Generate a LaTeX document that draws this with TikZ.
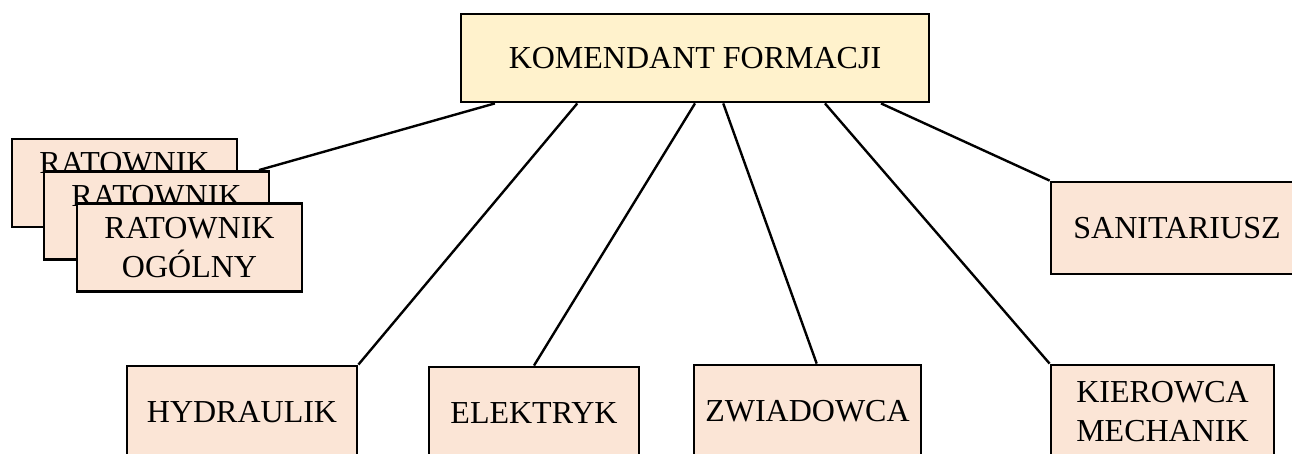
\documentclass[tikz,border=0pt]{standalone}
\usepackage{fontspec}
\setmainfont{Liberation Serif}
\usetikzlibrary{calc}
\definecolor{komfill}{HTML}{FFF2CC}
\definecolor{posfill}{HTML}{FBE5D6}
\begin{document}
\begin{tikzpicture}[x=0.5pt, y=-0.5pt,
    box/.style={draw, line width=1.4pt, fill=posfill, align=center, inner sep=0pt,
      minimum height=46pt, font=\fontsize{16}{19.5}\selectfont},
    link/.style={line width=1.2pt}]
    \useasboundingbox (0,0) rectangle (1292,454);
    \clip (0,0) rectangle (1292,454);

    % Komendant
    \node[box, fill=komfill, minimum width=234pt, minimum height=44pt] (kom) at (695, 58) {KOMENDANT FORMACJI};

    % Ratownicy (stos)
    \node[box, minimum width=112.5pt, minimum height=44pt] (rat1) at (124.5, 183) {RATOWNIK\\OGÓLNY};
    \node[box, minimum width=112.5pt, minimum height=44pt] (rat2) at (156.5, 215.5) {RATOWNIK\\OGÓLNY};
    \node[box, minimum width=112.5pt, minimum height=44pt] (rat3) at (189.5, 247.5) {RATOWNIK\\OGÓLNY};

    % Pozostali
    \node[box, minimum width=126pt] (san) at (1177, 228) {SANITARIUSZ};
    \node[box, minimum width=115pt] (hyd) at (242, 412) {HYDRAULIK};
    \node[box, minimum width=105pt] (ele) at (534, 413) {ELEKTRYK};
    \node[box, minimum width=113.5pt] (zwi) at (807.5, 411) {ZWIADOWCA};
    \node[box, minimum width=111.5pt, text depth=-10pt] (kie) at (1162.5, 411) {KIEROWCA\\MECHANIK};

    % Połączenia
    \draw[link] ($(kom.south west)!0.075!(kom.south east)$) -- ($(rat2.north west)!0.95!(rat2.north east)$);
    \draw[link] ($(kom.south west)!0.25!(kom.south east)$) -- (hyd.north east);
    \draw[link] (kom.south) -- (ele.north);
    \draw[link] ($(kom.south west)!0.56!(kom.south east)$) -- ($(zwi.north west)!0.54!(zwi.north east)$);
    \draw[link] ($(kom.south west)!0.776!(kom.south east)$) -- (kie.north west);
    \draw[link] ($(kom.south west)!0.895!(kom.south east)$) -- (san.north west);
\end{tikzpicture}
\end{document}
